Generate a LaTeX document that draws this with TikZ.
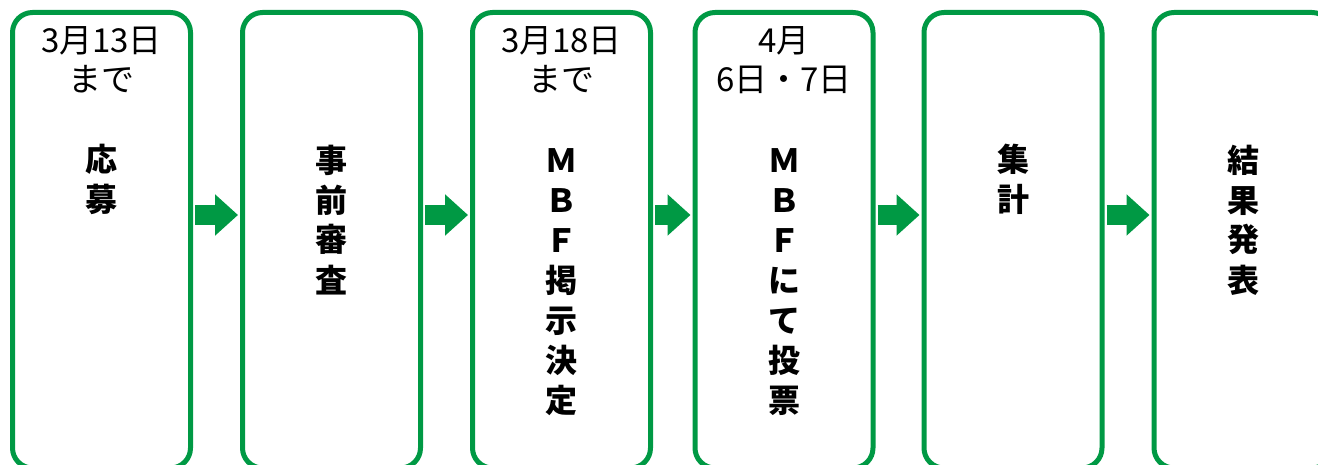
\documentclass[tikz,border=0pt]{standalone}
\usepackage{fontspec}
\setmainfont{Noto Sans CJK JP}
\usetikzlibrary{arrows.meta,positioning}
\definecolor{stepgreen}{RGB}{0,153,68}

\begin{document}
\begin{tikzpicture}[x=1pt,y=-1pt,inner sep=0pt,
  box/.style={draw=stepgreen,line width=5pt,rounded corners=20pt,minimum width=178pt,minimum height=455.5pt},
  datelbl/.style={font=\fontsize{33}{39}\selectfont,align=center,anchor=base},
  vlbl/.style={font=\fontsize{32}{40}\selectfont\bfseries,align=center,anchor=base},
  flow/.style={stepgreen,line width=20pt,-{Triangle[length=23pt,width=40pt]},shorten <=2pt,shorten >=2pt}]
\useasboundingbox (0,0) rectangle (1318,465);
% steps
\node (b1) at (101.5,240.25) [box] {};
\node (b2) at (331.5,240.25) [box] {};
\node (b3) at (561.5,240.25) [box] {};
\node (b4) at (784,240.25) [box] {};
\node (b5) at (1013,240.25) [box] {};
\node (b6) at (1243,240.25) [box] {};
% dates (base = last line)
\node (d1) at (101.5,92) [datelbl] {3月13日\\まで};
\node (d3) at (561.5,92) [datelbl] {3月18日\\まで};
\node (d4) at (784,92) [datelbl] {4月\\6日・7日};
% labels (base = last line)
\node (v1) at (101.5,212) [vlbl] {応\\募};
\node (v2) at (331.5,292) [vlbl] {事\\前\\審\\査};
\node (v3) at (561.5,412) [vlbl] {Ｍ\\Ｂ\\Ｆ\\掲\\示\\決\\定};
\node (v4) at (784,412) [vlbl] {Ｍ\\Ｂ\\Ｆ\\に\\て\\投\\票};
\node (v5) at (1013,212) [vlbl] {集\\計};
\node (v6) at (1243,292) [vlbl] {結\\果\\発\\表};
% arrows
\draw[flow] ([yshift=25.25pt]b1.east) -- ([yshift=25.25pt]b2.west);
\draw[flow] ([yshift=25.25pt]b2.east) -- ([yshift=25.25pt]b3.west);
\draw[flow] ([yshift=25.25pt]b3.east) -- ([yshift=25.25pt]b4.west);
\draw[flow] ([yshift=25.25pt]b4.east) -- ([yshift=25.25pt]b5.west);
\draw[flow] ([yshift=25.25pt]b5.east) -- ([yshift=25.25pt]b6.west);
\end{tikzpicture}
\end{document}
